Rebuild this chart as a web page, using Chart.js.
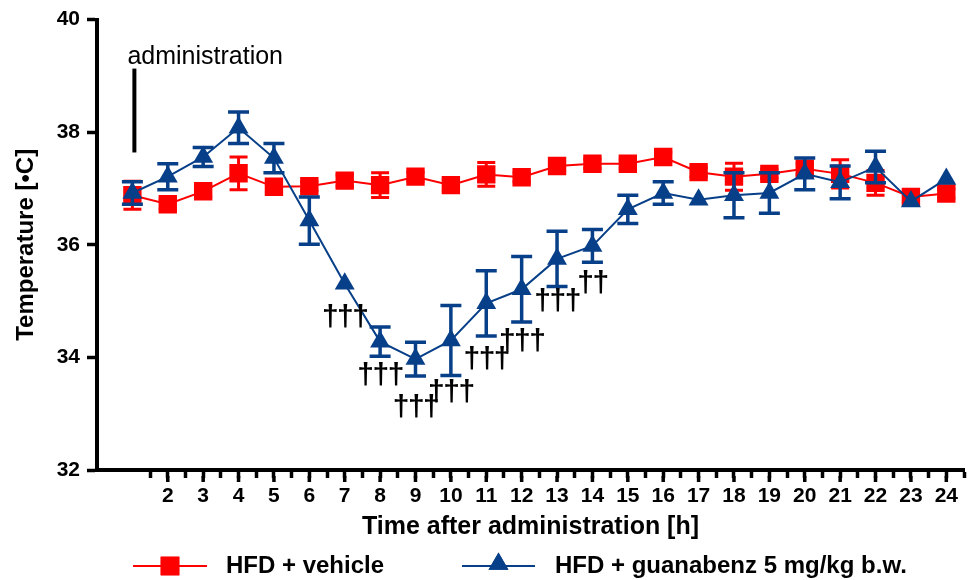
<!DOCTYPE html>
<html><head><meta charset="utf-8">
<script src="https://cdn.jsdelivr.net/npm/chart.js@4.4.1/dist/chart.umd.min.js"></script>
<style>html,body{margin:0;padding:0;background:#fff;}#wrap{width:977px;height:580px;}</style>
</head><body><div id="wrap"><canvas id="c" width="977" height="580"></canvas></div>
<script>
const hours = [1,2,3,4,5,6,7,8,9,10,11,12,13,14,15,16,17,18,19,20,21,22,23,24];
const vehicleMean = [36.88,36.72,36.95,37.27,37.03,37.04,37.14,37.06,37.21,37.06,37.25,37.20,37.40,37.44,37.44,37.56,37.29,37.21,37.26,37.35,37.26,37.10,36.85,36.91];
const vehicleSem  = [0.25,0.08,0.10,0.29,0.10,0.08,0.10,0.22,0.08,0.10,0.21,0.08,0.08,0.08,0.08,0.08,0.08,0.24,0.08,0.10,0.25,0.22,0.10,0.08];
const guanabenzMean = [36.92,37.21,37.56,38.08,37.54,36.43,35.31,34.28,33.97,34.30,34.96,35.21,35.75,35.98,36.63,36.92,36.80,36.88,36.92,37.26,37.11,37.38,36.77,37.17];
const guanabenzSem  = [0.20,0.23,0.17,0.28,0.26,0.42,0,0.26,0.30,0.62,0.58,0.58,0.49,0.29,0.25,0.20,0,0.40,0.36,0.28,0.29,0.28,0,0];
const yTicks = [32,34,36,38,40];
const xTickLabels = [2,3,4,5,6,7,8,9,10,11,12,13,14,15,16,17,18,19,20,21,22,23,24];
const daggerHours  = [7,8,9,10,11,12,13,14];
const daggerMarks  = ['†††','†††','†††','†††','†††','†††','†††','††'];
const daggerLevels = [34.70,33.67,33.10,33.38,33.95,34.27,34.98,35.30];
const seriesNames = ['HFD + vehicle','HFD + guanabenz 5 mg/kg b.w.'];

const RED = '#FF0000', BLUE = '#073F88';
const FONT = '"Liberation Sans", Arial, sans-serif';

const sems = [vehicleSem, guanabenzSem];
const errorBars = {
  id: 'errorBars',
  beforeDatasetDraw(chart, args) {
    const i = args.index, meta = args.meta, ys = chart.scales.y;
    const ds = chart.data.datasets[i];
    const ctx = chart.ctx;
    ctx.save();
    ctx.strokeStyle = ds.borderColor;
    ctx.lineWidth = i === 0 ? 3 : 3.5;
    const half = i === 0 ? 9 : 10.5;
    meta.data.forEach((pt, j) => {
      const v = ds.data[j].y, e = sems[i][j];
      if (!e) return;
      const yt = ys.getPixelForValue(v + e), yb = ys.getPixelForValue(v - e);
      ctx.beginPath();
      ctx.moveTo(pt.x, yt); ctx.lineTo(pt.x, yb);
      ctx.moveTo(pt.x - half, yt); ctx.lineTo(pt.x + half, yt);
      ctx.moveTo(pt.x - half, yb); ctx.lineTo(pt.x + half, yb);
      ctx.stroke();
    });
    ctx.restore();
  }
};

const extras = {
  id: 'extras',
  afterDraw(chart) {
    const ctx = chart.ctx, xs = chart.scales.x, ys = chart.scales.y;
    ctx.save();
    ctx.strokeStyle = '#000'; ctx.lineWidth = 3.5;
    const b = chart.chartArea.bottom;
    xTickLabels.forEach(h => {
      const px = xs.getPixelForValue(h);
      ctx.beginPath(); ctx.moveTo(px, b + 6); ctx.lineTo(px, b + 12); ctx.stroke();
    });
    const ax = xs.getPixelForValue(1) + 2;
    ctx.lineWidth = 4;
    ctx.beginPath(); ctx.moveTo(ax, ys.getPixelForValue(39.13)); ctx.lineTo(ax, ys.getPixelForValue(37.64)); ctx.stroke();
    ctx.fillStyle = '#000';
    ctx.font = '25px ' + FONT;
    ctx.textAlign = 'left'; ctx.textBaseline = 'alphabetic';
    ctx.fillText('administration', xs.getPixelForValue(1) - 5, ys.getPixelForValue(39.22));
    ctx.font = 'bold 30px ' + FONT;
    try { ctx.letterSpacing = '-1.5px'; } catch (e) {}
    ctx.textAlign = 'center'; ctx.textBaseline = 'middle';
    daggerHours.forEach((h, k) => {
      ctx.fillText(daggerMarks[k], xs.getPixelForValue(h), ys.getPixelForValue(daggerLevels[k]));
    });
    try { ctx.letterSpacing = '0px'; } catch (e) {}
    const ly = 566;
    const items = [
      {x0: 133, x1: 207, color: RED, style: 'rect', r: 13.2, tx: 226},
      {x0: 462, x1: 535, color: BLUE, style: 'triangle', r: 11.5, tx: 555}
    ];
    items.forEach((it, k) => {
      ctx.strokeStyle = it.color; ctx.lineWidth = 2;
      ctx.beginPath(); ctx.moveTo(it.x0, ly); ctx.lineTo(it.x1, ly); ctx.stroke();
      ctx.fillStyle = it.color;
      Chart.helpers.drawPoint(ctx, {pointStyle: it.style, radius: it.r, rotation: 0, borderWidth: 0}, (it.x0 + it.x1) / 2, it.style === 'triangle' ? ly - 2 : ly);
      ctx.fill();
      ctx.fillStyle = '#000';
      ctx.font = 'bold 24px ' + FONT;
      ctx.textAlign = 'left'; ctx.textBaseline = 'middle';
      ctx.fillText(seriesNames[k], it.tx, ly);
    });
    ctx.restore();
  }
};

const minorTicks = [];
for (let v = 1.5; v <= 24.5; v += 0.5) minorTicks.push(v);

new Chart(document.getElementById('c'), {
  type: 'line',
  data: {
    datasets: [
      {label: seriesNames[0], data: hours.map((h, i) => ({x: h, y: vehicleMean[i]})),
       borderColor: RED, backgroundColor: RED, borderWidth: 2,
       pointStyle: 'rect', pointRadius: 13, pointBorderWidth: 0, pointBackgroundColor: RED, order: 2},
      {label: seriesNames[1], data: hours.map((h, i) => ({x: h, y: guanabenzMean[i]})),
       borderColor: BLUE, backgroundColor: BLUE, borderWidth: 2,
       pointStyle: 'triangle', pointRadius: 11.5, pointBorderWidth: 0, pointBackgroundColor: BLUE, order: 1}
    ]
  },
  options: {
    responsive: false, animation: false, devicePixelRatio: 1,
    layout: {padding: {top: 19, right: 7, bottom: 38, left: 0}},
    plugins: {legend: {display: false}, tooltip: {enabled: false}},
    scales: {
      x: {
        type: 'linear', min: 0, max: 24.5,
        afterBuildTicks: s => { s.ticks = minorTicks.map(v => ({value: v})); },
        afterFit: s => { s.height = 72; },
        ticks: {autoSkip: false, maxRotation: 0, minRotation: 0, padding: 6, color: '#000',
                font: {family: FONT, size: 21, weight: 'bold'},
                callback: v => xTickLabels.includes(v) ? String(v) : ''},
        grid: {drawOnChartArea: false, drawTicks: true, tickLength: 8, tickWidth: 3.5, tickColor: '#000'},
        border: {display: true, color: '#000', width: 4},
        title: {display: true, text: 'Time after administration [h]', color: '#000',
                font: {family: FONT, size: 25, weight: 'bold'}, padding: {top: 0, bottom: 0}}
      },
      y: {
        min: 32, max: 40,
        afterBuildTicks: s => { s.ticks = yTicks.map(v => ({value: v})); },
        afterFit: s => { s.width = 97; },
        ticks: {padding: 7, color: '#000', font: {family: FONT, size: 21, weight: 'bold'}},
        grid: {drawOnChartArea: false, drawTicks: true, tickLength: 10, tickWidth: 3.5, tickColor: '#000'},
        border: {display: true, color: '#000', width: 4},
        title: {display: true, text: 'Temperature [•C]', color: '#000',
                font: {family: FONT, size: 24, weight: 'bold'}, padding: {top: 12, bottom: 0}}
      }
    }
  },
  plugins: [errorBars, extras]
});
</script></body></html>
